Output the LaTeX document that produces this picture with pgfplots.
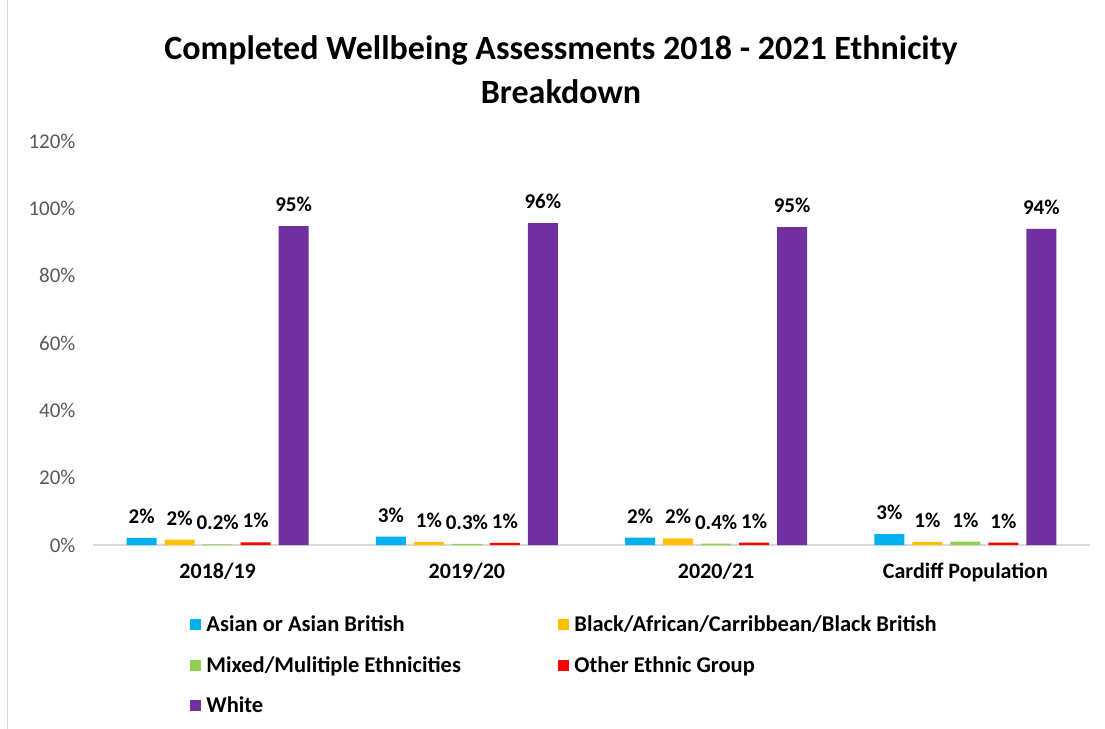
\documentclass[border=0pt]{standalone}
\usepackage{pgfplots}
\pgfplotsset{compat=1.18}
\usepackage{fontspec}
\setmainfont{Carlito}
\definecolor{cAsian}{HTML}{00B0F0}
\definecolor{cBlack}{HTML}{FFC000}
\definecolor{cMixed}{HTML}{92D050}
\definecolor{cOther}{HTML}{FF0000}
\definecolor{cWhite}{HTML}{7030A0}
\definecolor{tickgray}{HTML}{595959}
\definecolor{linegray}{HTML}{D9D9D9}
\begin{document}
\begin{tikzpicture}
\path[use as bounding box] (0,0) rectangle (1105bp,729bp);
\draw[linegray, line width=1bp] (7.5bp,0) -- (7.5bp,729bp);
\node[font=\fontsize{34bp}{44bp}\selectfont\bfseries, align=center, anchor=center]
  at (561bp,659bp) {Completed Wellbeing Assessments 2018 - 2021 Ethnicity\\Breakdown};
\begin{axis}[
    at={(93bp,184bp)}, anchor=south west,
    scale only axis,
    width=997bp, height=404bp,
    ybar=8bp, bar width=30bp,
    xmin=-0.5, xmax=3.5,
    ymin=0, ymax=120,
    ytick={0,20,...,120},
    yticklabel={\pgfmathprintnumber{\tick}\%},
    /pgf/number format/assume math mode=true,
    xtick={0,1,2,3},
    xticklabels={2018/19,2019/20,2020/21,Cardiff Population},
    x tick label style={font=\fontsize{22bp}{24bp}\selectfont\bfseries, yshift=-15bp},
    y tick label style={font=\fontsize{21bp}{24bp}\selectfont, text=tickgray, xshift=-14bp},
    axis line style={draw=none},
    major tick length=0pt,
    axis x line*=bottom,
    axis y line*=left,
    clip=false,
    point meta=explicit symbolic,
    nodes near coords,
    every node near coord/.append style={font=\fontsize{21bp}{24bp}\selectfont\bfseries, anchor=south, inner sep=0pt, yshift=14bp},
    legend style={draw=none, fill=none, at={(0.094,-0.168)}, anchor=north west,
      legend columns=2, row sep=21bp,
      font=\fontsize{22.5bp}{24bp}\selectfont\bfseries,
      nodes={inner xsep=2.5bp, inner ysep=1bp}},
    legend cell align=left,
    legend image code/.code={\fill[#1,draw=none] (0bp,-5.5bp) rectangle (11bp,5.5bp);},
    extra y ticks={0}, extra y tick labels={},
    extra y tick style={grid=major, major grid style={linegray, line width=1.2bp}},
]
\addplot[fill=cAsian, draw=none] coordinates {(0,2.1) [2\%] (1,2.5) [3\%] (2,2.2) [2\%] (3,3.2) [3\%]};
\addlegendentry{\makebox[352bp][l]{\hspace{3bp}Asian or Asian British}}
\addplot[fill=cBlack, draw=none] coordinates {(0,1.6) [2\%] (1,0.9) [1\%] (2,2.0) [2\%] (3,0.9) [1\%]};
\addlegendentry{\hspace{3bp}Black/African/Carribbean/Black British}
\addplot[fill=cMixed, draw=none] coordinates {(0,0.2) [0.2\%] (1,0.3) [0.3\%] (2,0.4) [0.4\%] (3,1.0) [1\%]};
\addlegendentry{\makebox[352bp][l]{\hspace{3bp}Mixed/Mulitiple Ethnicities}}
\addplot[fill=cOther, draw=none] coordinates {(0,0.8) [1\%] (1,0.6) [1\%] (2,0.7) [1\%] (3,0.7) [1\%]};
\addlegendentry{\hspace{3bp}Other Ethnic Group}
\addplot[fill=cWhite, draw=none] coordinates {(0,94.7) [95\%] (1,95.6) [96\%] (2,94.4) [95\%] (3,93.9) [94\%]};
\addlegendentry{\hspace{3bp}White}
\end{axis}
\end{tikzpicture}
\end{document}
